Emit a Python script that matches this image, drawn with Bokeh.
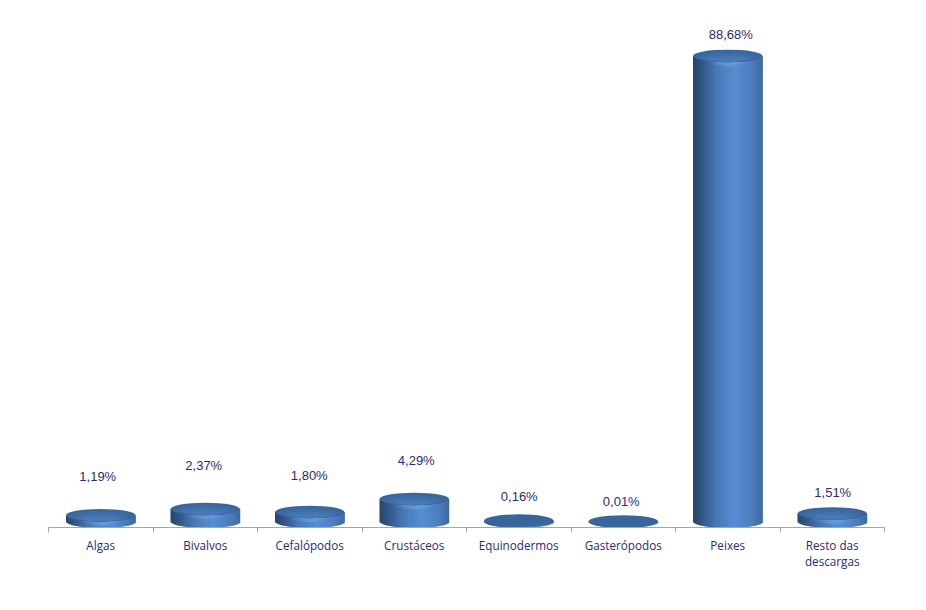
from bokeh.plotting import figure
from bokeh.models import ColumnDataSource, FixedTicker, Range1d
from bokeh.core.properties import value
from bokeh.embed import file_html
from bokeh.resources import INLINE

categories = ["Algas", "Bivalvos", "Cefalópodos", "Crustáceos", "Equinodermos",
              "Gasterópodos", "Peixes", "Resto das\ndescargas"]
shares = [1.19, 2.37, 1.80, 4.29, 0.16, 0.01, 88.68, 1.51]
share_labels = ["1,19%", "2,37%", "1,80%", "4,29%", "0,16%", "0,01%", "88,68%", "1,51%"]

# layout only
label_gap_px = [33, 38, 31, 32, 18, 14, 15, 15]
label_shift_px = [-3, -1.5, -0.5, 2, 0.5, -2, 3, 0.5]
PX_PER_UNIT = 5.25
RY = 6.3 / PX_PER_UNIT
CYL_W = 69.5 / 104.5
N = 70

def lerp(a, b, t):
    return tuple(a[i] + (b[i] - a[i]) * t for i in range(3))

def hexc(c):
    return "#%02x%02x%02x" % tuple(int(round(v)) for v in c)

stops = [(0.0, (40, 68, 106)), (0.12, (50, 86, 134)), (0.35, (74, 122, 182)),
         (0.6, (88, 142, 212)), (0.85, (76, 126, 190)), (1.0, (62, 106, 162))]

def body_color(t):
    for (t0, c0), (t1, c1) in zip(stops, stops[1:]):
        if t <= t1:
            return hexc(lerp(c0, c1, (t - t0) / (t1 - t0)))
    return hexc(stops[-1][1])

p = figure(width=920, height=604, output_backend="svg", toolbar_location=None,
           x_range=Range1d(0, 8), y_range=Range1d(-6 / PX_PER_UNIT, 513 / PX_PER_UNIT),
           min_border_left=48, min_border_right=36, min_border_top=8, min_border_bottom=77)
p.outline_line_color = None
p.grid.visible = False
p.yaxis.visible = False
p.background_fill_color = "white"
p.border_fill_color = "white"

L, R, T, B, C = [], [], [], [], []
for i, v in enumerate(shares):
    cx = i + 0.5
    for k in range(N):
        t0, t1 = k / N, (k + 1) / N
        um = (t0 + t1) - 1
        overlap = 0.012 if k < N - 1 else 0.0
        L.append(cx - CYL_W / 2 + CYL_W * t0)
        R.append(cx - CYL_W / 2 + CYL_W * t1 + overlap)
        T.append(v)
        B.append(-RY * max(0.0, 1 - um * um) ** 0.5)
        C.append(body_color((t0 + t1) / 2))
p.quad(left=L, right=R, top=T, bottom=B, fill_color=C, line_color=None)

cx = [i + 0.5 for i in range(len(shares))]
tall = [v >= 1 for v in shares]
hx = [c for c, f in zip(cx, tall) if f]
hv = [v for v, f in zip(shares, tall) if f]
# soft highlight on the body just under the cap (hidden above by the cap)
for w, h in [(0.60, 1.2), (0.42, 1.15), (0.26, 1.1)]:
    p.ellipse(x=hx, y=[v - RY * 0.5 for v in hv], width=CYL_W * w, height=2 * RY * h,
              fill_color="#8db8ee", fill_alpha=0.13, line_color=None)
# cap: darker far edge, fading lighter towards the near edge
p.ellipse(x=cx, y=shares, width=CYL_W, height=2 * RY, fill_color="#38669b", line_color=None)
LAYERS = 8
for j in range(1, LAYERS + 1):
    f = j / LAYERS
    col = hexc(lerp((56, 102, 155), (74, 122, 184), f))
    p.ellipse(x=hx, y=[v - RY * 0.62 * f for v in hv],
              width=CYL_W * (1 - 0.55 * f), height=2 * RY * (1 - 0.72 * f),
              fill_color=col, fill_alpha=0.75, line_color=None)

src = ColumnDataSource(dict(x=cx, y=shares, t=share_labels, dx=label_shift_px,
                            off=[-(6 + g) for g in label_gap_px]))
p.text(x="x", y="y", text="t", x_offset="dx", y_offset="off", source=src, text_align="center",
       text_baseline="middle", text_color="#2b2a78", text_font=value("Liberation Sans"),
       text_font_size="13px")

ax = p.xaxis[0]
ax.ticker = FixedTicker(ticks=cx, minor_ticks=list(range(9)))
ax.major_label_overrides = {c: n for c, n in zip(cx, categories)}
ax.major_tick_line_color = None
ax.major_tick_out = 0
ax.major_tick_in = 0
ax.minor_tick_in = 0
ax.minor_tick_out = 5
ax.minor_tick_line_color = "#a6a6a6"
ax.axis_line_color = "#a6a6a6"
ax.axis_line_width = 1
ax.major_label_standoff = 4
ax.major_label_text_color = "#2b2a78"
ax.major_label_text_font = "Open Sans"
ax.major_label_text_font_size = "11.7px"
ax.major_label_text_line_height = 1.0

open("out.html", "w").write(file_html(p, INLINE))
